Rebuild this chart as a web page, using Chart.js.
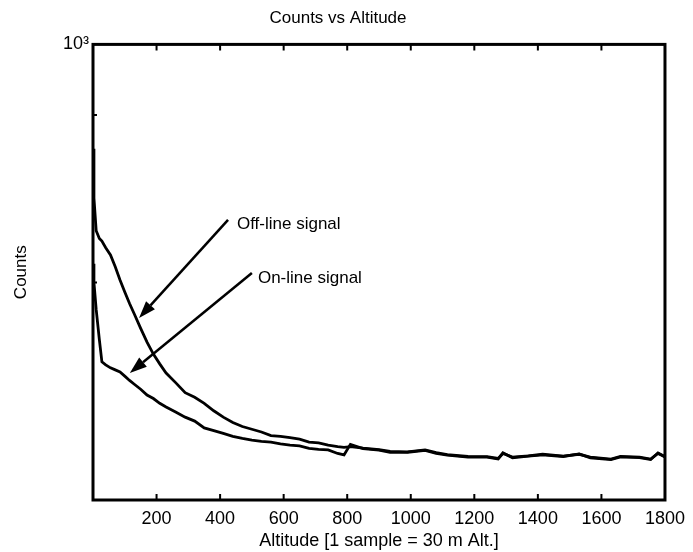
<!DOCTYPE html>
<html>
<head>
<meta charset="utf-8">
<script src="https://cdn.jsdelivr.net/npm/chart.js@4.4.1/dist/chart.umd.min.js"></script>
<style>
  html, body { margin: 0; padding: 0; background: #fff; }
  #wrap { width: 693px; height: 552px; }
</style>
</head>
<body>
<div id="wrap"><canvas id="countsChart" width="693" height="552"></canvas></div>
<script>
// sample index along the profile (1 sample = 30 m)
var samples = [0, 3, 10, 20, 28, 40, 55, 70, 85, 100, 115, 130, 150, 170, 190, 210, 230, 260, 290, 320,
  350, 380, 410, 440, 470, 500, 530, 560, 590, 620, 650, 680, 710, 740, 770, 790, 810, 850, 900, 935,
  990, 1045, 1080, 1115, 1180, 1240, 1275, 1290, 1320, 1370, 1415, 1480, 1530, 1565, 1630, 1660, 1720,
  1755, 1778, 1800];

var offline = [590, 460, 390, 375, 370, 358, 345, 325, 304, 286, 270, 256, 238, 222, 209, 199, 190, 181, 172, 168,
  163, 157, 152, 148, 145, 143, 141, 138.5, 138, 137, 136, 134, 133.5, 132, 131, 130.5, 131, 130, 129, 127.8,
  127.5, 128.8, 127, 125.8, 124.6, 124.5, 123.4, 126.5, 124.2, 125, 126, 124.8, 126, 124.2, 123, 124.6, 124.2,
  123, 126.5, 124.5];

var online = [330, 300, 262, 225, 201, 198, 195, 193, 191, 187, 183, 179.5, 175, 170, 167, 163, 160, 156, 152, 149,
  144, 142, 140, 138, 136.5, 135.3, 134.5, 134, 132.8, 132, 131.5, 129.8, 129.2, 128.8, 126.5, 125.6, 132.5, 129.6, 128.6, 127.2,
  127.3, 128.5, 126.6, 125.4, 124.2, 124.2, 123, 126.9, 123.8, 124.8, 125.6, 124.6, 126.2, 123.8, 122.6, 124.4, 123.9,
  122.7, 126.8, 124.3];

var xTicks = [200, 400, 600, 800, 1000, 1200, 1400, 1600, 1800];
var yMinorTicks = [700, 300];

// arrow notes: tail/tip in (sample, counts)
var notes = [
  { text: 'Off-line signal', tx: 453, ty: 402, x0: 425, y0: 412, x1: 145, y1: 251 },
  { text: 'On-line signal', tx: 519, ty: 307, x0: 500, y0: 315, x1: 116, y1: 190 }
];

var FONT = '"Liberation Sans", Arial, Helvetica, sans-serif';

var framePlugin = {
  id: 'frame',
  afterDraw: function (chart) {
    var ctx = chart.ctx;
    var a = chart.chartArea;
    var xs = chart.scales.x;
    var ys = chart.scales.y;
    ctx.save();
    ctx.strokeStyle = '#000';
    ctx.lineWidth = 3;
    ctx.strokeRect(a.left, a.top, a.right - a.left, a.bottom - a.top);

    // inward ticks
    ctx.lineWidth = 2;
    ctx.beginPath();
    xTicks.forEach(function (t) {
      var px = xs.getPixelForValue(t);
      ctx.moveTo(px, a.bottom);
      ctx.lineTo(px, a.bottom - 6);
      ctx.moveTo(px, a.top);
      ctx.lineTo(px, a.top + 6);
    });
    yMinorTicks.forEach(function (t) {
      var py = ys.getPixelForValue(t);
      ctx.moveTo(a.left, py);
      ctx.lineTo(a.left + 4, py);
    });
    ctx.stroke();

    // arrows + labels
    ctx.fillStyle = '#000';
    ctx.font = '17px ' + FONT;
    ctx.textBaseline = 'middle';
    ctx.textAlign = 'left';
    notes.forEach(function (n) {
      var x0 = xs.getPixelForValue(n.x0), y0 = ys.getPixelForValue(n.y0);
      var x1 = xs.getPixelForValue(n.x1), y1 = ys.getPixelForValue(n.y1);
      var ang = Math.atan2(y1 - y0, x1 - x0);
      var len = 17, half = 6;
      var bx = x1 - len * Math.cos(ang), by = y1 - len * Math.sin(ang);
      ctx.lineWidth = 2.5;
      ctx.beginPath();
      ctx.moveTo(x0, y0);
      ctx.lineTo(bx, by);
      ctx.stroke();
      ctx.beginPath();
      ctx.moveTo(x1, y1);
      ctx.lineTo(bx + half * Math.sin(ang), by - half * Math.cos(ang));
      ctx.lineTo(bx - half * Math.sin(ang), by + half * Math.cos(ang));
      ctx.closePath();
      ctx.fill();
      ctx.fillText(n.text, xs.getPixelForValue(n.tx), ys.getPixelForValue(n.ty));
    });
    ctx.restore();
  }
};

function toPoints(vals) {
  return samples.map(function (s, i) { return { x: s, y: vals[i] }; });
}

var ctx = document.getElementById('countsChart').getContext('2d');
var myChart = new Chart(ctx, {
  type: 'line',
  data: {
    datasets: [
      { label: 'Off-line signal', data: toPoints(offline), borderColor: '#000', borderWidth: 2.8, pointRadius: 0, tension: 0 },
      { label: 'On-line signal', data: toPoints(online), borderColor: '#000', borderWidth: 2.8, pointRadius: 0, tension: 0 }
    ]
  },
  options: {
    responsive: false,
    animation: false,
    layout: { padding: { top: 8, right: 28, bottom: 0, left: 11 } },
    plugins: {
      legend: { display: false },
      tooltip: { enabled: false },
      title: {
        display: true,
        text: 'Counts vs Altitude',
        color: '#000',
        font: { family: FONT, size: 17, weight: 'normal' },
        padding: { top: 0, bottom: 16 }
      }
    },
    scales: {
      x: {
        type: 'linear',
        min: 0,
        max: 1800,
        grid: { display: false, drawTicks: false },
        border: { display: false },
        afterFit: function (scale) { scale.height = 52; },
        ticks: {
          stepSize: 200,
          autoSkip: false,
          maxRotation: 0,
          color: '#000',
          padding: 8,
          font: { family: FONT, size: 18 },
          callback: function (v) { return v === 0 ? '' : v; }
        },
        title: {
          display: true,
          text: 'Altitude [1 sample = 30 m Alt.]',
          color: '#000',
          font: { family: FONT, size: 18 },
          padding: { top: 0, bottom: 0 }
        }
      },
      y: {
        type: 'logarithmic',
        min: 100,
        max: 1000,
        grid: { display: false, drawTicks: false },
        border: { display: false },
        afterFit: function (scale) { scale.width = 82; },
        ticks: {
          autoSkip: false,
          color: '#000',
          padding: 4,
          font: { family: FONT, size: 18 },
          callback: function (v) { return v === 1000 ? '10³' : ''; }
        },
        title: {
          display: true,
          text: 'Counts',
          color: '#000',
          font: { family: FONT, size: 17 },
          padding: { top: 0, bottom: 0 }
        }
      }
    }
  },
  plugins: [framePlugin]
});
</script>
</body>
</html>
